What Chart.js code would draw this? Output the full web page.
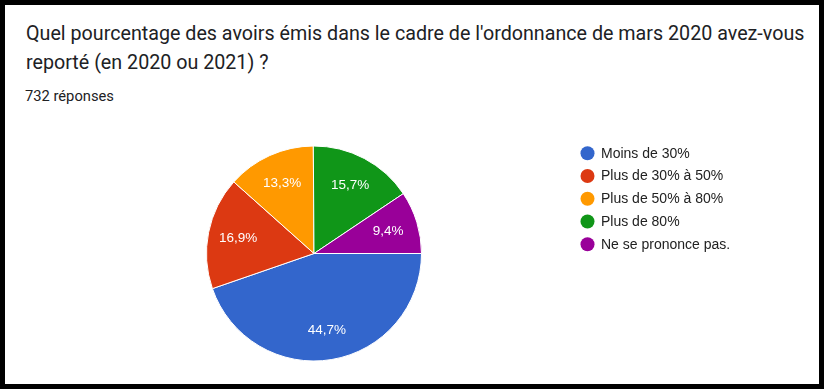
<!DOCTYPE html>
<html>
<head>
<meta charset="utf-8">
<script src="https://cdn.jsdelivr.net/npm/chart.js@4"></script>
<style>
  html, body { margin: 0; padding: 0; background: #fff; }
  body { width: 831px; height: 392px; position: relative; overflow: hidden; }
  #frame { position: absolute; left: 0; top: 0; width: 824px; height: 389px; box-sizing: border-box; border: 5px solid #000; }
  #title { position: absolute; left: 26px; top: 19px; font-family: Roboto, "Noto Sans", sans-serif; font-size: 19px; line-height: 29.4px; color: #202124; white-space: nowrap; }
  #count { position: absolute; left: 25px; top: 87px; font-family: Roboto, sans-serif; font-size: 14.5px; line-height: 18px; color: #202124; white-space: nowrap; }
  #c { position: absolute; left: 0; top: 0; }
</style>
</head>
<body>
<div id="frame"></div>
<div id="title"><span id="l1">Quel pourcentage des avoirs émis dans le cadre de l'ordonnance de mars 2020 avez-vous</span><br>reporté (en 2020 ou 2021) ?</div>
<div id="count"><span id="cnt">732 réponses</span></div>
<canvas id="c" width="831" height="392"></canvas>
<script>
const categories = ['Moins de 30%', 'Plus de 30% à 50%', 'Plus de 50% à 80%', 'Plus de 80%', 'Ne se prononce pas.'];
const shares = [44.7, 16.9, 13.3, 15.7, 9.4];
const sliceColors = ['#3366cc', '#dc3912', '#ff9900', '#109618', '#990099'];

// fit header text widths to the reference layout
(function fitText() {
  const title = document.getElementById('title');
  const l1 = document.getElementById('l1');
  const w1 = l1.getBoundingClientRect().width;
  if (w1 > 0) {
    const fs = 19 * 779 / w1;
    title.style.fontSize = fs.toFixed(2) + 'px';
    const lh = 29.4;
    const baselineOff = (lh - 1.172 * fs) / 2 + 0.928 * fs;
    title.style.top = (40.3 - baselineOff).toFixed(2) + 'px';
  }
  const count = document.getElementById('count');
  const cnt = document.getElementById('cnt');
  const w2 = cnt.getBoundingClientRect().width;
  if (w2 > 0) {
    const fs2 = 14.5 * 89 / w2;
    count.style.fontSize = fs2.toFixed(2) + 'px';
    const baselineOff2 = (18 - 1.172 * fs2) / 2 + 0.928 * fs2;
    count.style.top = (101.3 - baselineOff2).toFixed(2) + 'px';
  }
})();

const sliceLabels = {
  id: 'sliceLabels',
  afterDatasetsDraw(chart) {
    const ctx = chart.ctx;
    const meta = chart.getDatasetMeta(0);
    const data = chart.data.datasets[0].data;
    ctx.save();
    ctx.fillStyle = '#ffffff';
    ctx.font = '13.5px Arial, "Liberation Sans", sans-serif';
    ctx.textAlign = 'center';
    ctx.textBaseline = 'middle';
    meta.data.forEach((arc, i) => {
      const p = arc.getProps(['x', 'y', 'startAngle', 'endAngle', 'outerRadius'], true);
      const mid = (p.startAngle + p.endAngle) / 2;
      const r = p.outerRadius * 0.72;
      const txt = data[i].toFixed(1).replace('.', ',') + '%';
      ctx.fillText(txt, p.x + Math.cos(mid) * r, p.y + Math.sin(mid) * r);
    });
    ctx.restore();
  }
};

const sideLegend = {
  id: 'sideLegend',
  afterDraw(chart) {
    const ctx = chart.ctx;
    const labels = chart.data.labels;
    const colors = chart.data.datasets[0].backgroundColor;
    const x0 = 587.5, y0 = 153.3, step = 22.75;
    ctx.save();
    ctx.font = '14px Arial, "Liberation Sans", sans-serif';
    ctx.textAlign = 'left';
    ctx.textBaseline = 'middle';
    labels.forEach((lab, i) => {
      const y = y0 + i * step;
      ctx.beginPath();
      ctx.arc(x0, y, 7, 0, Math.PI * 2);
      ctx.fillStyle = colors[i];
      ctx.fill();
      ctx.fillStyle = '#222222';
      ctx.fillText(lab, 601, y + 0.5);
    });
    ctx.restore();
  }
};

new Chart(document.getElementById('c'), {
  type: 'pie',
  data: {
    labels: categories,
    datasets: [{
      data: shares,
      backgroundColor: sliceColors,
      borderColor: '#ffffff',
      borderWidth: 1,
      hoverOffset: 0
    }]
  },
  options: {
    responsive: false,
    animation: false,
    devicePixelRatio: 1,
    rotation: 90,
    layout: { padding: { left: 206, right: 409, top: 145.5, bottom: 30.5 } },
    plugins: {
      legend: { display: false },
      tooltip: { enabled: false }
    }
  },
  plugins: [sliceLabels, sideLegend]
});
</script>
</body>
</html>
